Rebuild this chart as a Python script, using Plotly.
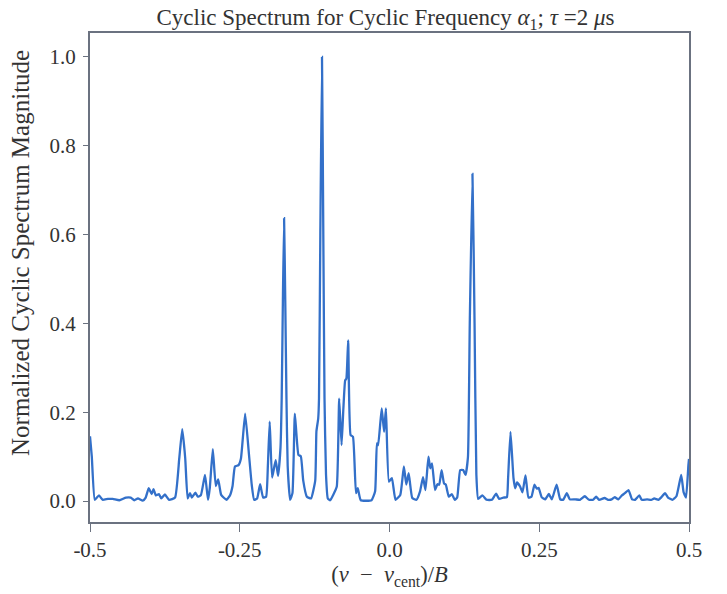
import plotly.graph_objects as go

freq = [-0.500, -0.497, -0.492, -0.485, -0.479, -0.470, -0.462, -0.451, -0.440, -0.432, -0.426,
        -0.420, -0.412, -0.407, -0.402, -0.397, -0.394, -0.390, -0.385, -0.381, -0.375,
        -0.368, -0.358, -0.351, -0.346, -0.341, -0.337, -0.333, -0.330, -0.324, -0.320,
        -0.315, -0.308, -0.303, -0.300, -0.295, -0.290, -0.286, -0.281, -0.272, -0.266,
        -0.262, -0.258, -0.252, -0.248, -0.241, -0.235, -0.230, -0.226, -0.221, -0.216,
        -0.211, -0.206, -0.203, -0.200, -0.196, -0.190, -0.186, -0.182, -0.180, -0.178,
        -0.176, -0.174, -0.172, -0.170, -0.166, -0.162, -0.158, -0.152, -0.148, -0.144,
        -0.138, -0.131, -0.124, -0.122, -0.119, -0.1177, -0.1155, -0.1127, -0.1105, -0.1085,
        -0.106, -0.103, -0.099, -0.094, -0.088, -0.084, -0.080, -0.077, -0.074, -0.072,
        -0.069, -0.065, -0.061, -0.056, -0.053, -0.048, -0.030, -0.024, -0.021, -0.019,
        -0.013, -0.009, -0.006, -0.001, 0.004, 0.010, 0.018, 0.024, 0.028, 0.032,
        0.038, 0.045, 0.051, 0.056, 0.060, 0.065, 0.068, 0.071, 0.076, 0.080,
        0.083, 0.087, 0.091, 0.094, 0.099, 0.104, 0.109, 0.113, 0.118, 0.123,
        0.127, 0.131, 0.134, 0.1385, 0.142, 0.145, 0.148, 0.155, 0.162, 0.171,
        0.178, 0.183, 0.190, 0.196, 0.198, 0.202, 0.207, 0.210, 0.213, 0.218,
        0.222, 0.227, 0.232, 0.237, 0.242, 0.246, 0.249, 0.254, 0.260, 0.266,
        0.271, 0.279, 0.285, 0.290, 0.296, 0.301, 0.310, 0.318, 0.326, 0.333,
        0.340, 0.345, 0.350, 0.359, 0.365, 0.371, 0.376, 0.382, 0.388, 0.393,
        0.399, 0.405, 0.410, 0.417, 0.421, 0.430, 0.437, 0.442, 0.449, 0.454,
        0.460, 0.465, 0.472, 0.479, 0.487, 0.491, 0.495, 0.499, 0.500]

magnitude = [0.146, 0.100, 0.003, 0.013, 0.003, 0.005, 0.005, 0.002, 0.008, 0.008, 0.002,
             0.006, 0.001, 0.008, 0.029, 0.016, 0.027, 0.013, 0.016, 0.006, 0.015,
             0.003, 0.008, 0.096, 0.162, 0.096, 0.006, 0.018, 0.008, 0.019, 0.010,
             0.013, 0.059, 0.003, 0.030, 0.117, 0.034, 0.049, 0.014, 0.003, 0.014,
             0.034, 0.078, 0.081, 0.096, 0.197, 0.111, 0.037, 0.003, 0.006, 0.038,
             0.008, 0.010, 0.081, 0.179, 0.053, 0.092, 0.057, 0.120, 0.230, 0.450,
             0.637, 0.450, 0.230, 0.080, 0.003, 0.018, 0.197, 0.104, 0.101, 0.046,
             0.010, 0.006, 0.046, 0.157, 0.186, 0.231, 0.600, 1.000, 0.600, 0.231,
             0.060, 0.006, 0.002, 0.014, 0.033, 0.231, 0.126, 0.209, 0.272, 0.276,
             0.362, 0.149, 0.145, 0.018, 0.029, 0.002, 0.002, 0.022, 0.130, 0.126,
             0.209, 0.156, 0.209, 0.044, 0.052, 0.003, 0.014, 0.078, 0.037, 0.063,
             0.007, 0.003, 0.022, 0.054, 0.025, 0.100, 0.074, 0.085, 0.025, 0.038,
             0.037, 0.070, 0.040, 0.037, 0.010, 0.016, 0.003, 0.008, 0.070, 0.070,
             0.059, 0.100, 0.400, 0.737, 0.400, 0.060, 0.005, 0.013, 0.003, 0.003,
             0.017, 0.005, 0.008, 0.009, 0.052, 0.156, 0.052, 0.029, 0.042, 0.033,
             0.020, 0.058, 0.008, 0.010, 0.037, 0.028, 0.030, 0.009, 0.004, 0.016,
             0.004, 0.037, 0.004, 0.003, 0.018, 0.004, 0.004, 0.003, 0.011, 0.003,
             0.003, 0.010, 0.003, 0.007, 0.003, 0.004, 0.009, 0.004, 0.013, 0.018,
             0.025, 0.004, 0.003, 0.013, 0.003, 0.004, 0.003, 0.006, 0.003, 0.009,
             0.018, 0.008, 0.003, 0.011, 0.059, 0.020, 0.008, 0.081, 0.095]

x_tickvals = [-0.5, -0.25, 0.0, 0.25, 0.5]
x_ticktext = ["-0.5", "-0.25", "0.0", "0.25", "0.5"]
y_tickvals = [0.0, 0.2, 0.4, 0.6, 0.8, 1.0]
y_ticktext = ["0.0", "0.2", "0.4", "0.6", "0.8", "1.0"]

SERIF = "Liberation Serif, Times New Roman, serif"
FRAME = "#6b7280"
TEXT = "#333333"

fig = go.Figure(go.Scatter(
    x=freq, y=magnitude, mode="lines",
    line=dict(color="#3370c9", width=2.3, shape="spline", smoothing=0.4),
    showlegend=False, hoverinfo="x+y",
))

fig.update_layout(
    width=719, height=586,
    margin=dict(l=82, r=38, t=25, b=70),
    paper_bgcolor="white", plot_bgcolor="white",
    font=dict(family=SERIF, size=21, color=TEXT),
    title=dict(
        text="Cyclic Spectrum for Cyclic Frequency <i>α</i><sub>1</sub>; <i>τ</i> =2 <i>μ</i>s",
        x=0.525, xanchor="center", yref="container", y=0.984, yanchor="middle",
        font=dict(family=SERIF, size=23, color=TEXT),
    ),
    annotations=[dict(
        text="Normalized Cyclic Spectrum Magnitude",
        textangle=-90, xref="paper", yref="paper",
        x=-0.117, y=0.55, xanchor="center", yanchor="middle",
        showarrow=False, font=dict(family=SERIF, size=25, color=TEXT),
    )],
)

fig.update_xaxes(
    range=[-0.5, 0.5], tickvals=x_tickvals, ticktext=x_ticktext,
    showgrid=False, zeroline=False,
    showline=True, mirror=True, linecolor=FRAME, linewidth=2,
    ticks="outside", ticklen=8, tickcolor=FRAME, tickwidth=1,
    tickfont=dict(family=SERIF, size=21, color=TEXT),
    title=dict(text="(<i>ν</i>&nbsp;&nbsp;−&nbsp;&nbsp;<i>ν</i><sub>cent</sub>)/<i>B</i>",
               font=dict(family=SERIF, size=22.5, color=TEXT), standoff=4),
)
fig.update_yaxes(
    range=[-0.047, 1.054], tickvals=y_tickvals, ticktext=y_ticktext,
    showgrid=False, zeroline=False,
    showline=True, mirror=True, linecolor=FRAME, linewidth=2,
    ticks="outside", ticklen=5, tickcolor=FRAME, tickwidth=1,
    ticklabelstandoff=3,
    tickfont=dict(family=SERIF, size=21, color=TEXT),
)

fig.write_html("out.html")
